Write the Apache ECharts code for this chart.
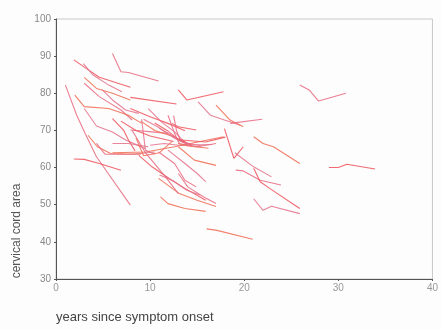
<!DOCTYPE html>
<html>
<head>
<meta charset="utf-8">
<script src="https://cdn.jsdelivr.net/npm/echarts@6/dist/echarts.min.js"></script>
<style>
  html, body { margin: 0; padding: 0; background: #fdfdfd; }
  #chart { width: 441px; height: 329px; }
</style>
</head>
<body>
<div id="chart"></div>
<script>
// axis setup
const xTicks = [0, 10, 20, 30, 40];
const yTicks = [30, 40, 50, 60, 70, 80, 90, 100];
const xTitle = 'years since symptom onset';
const yTitle = 'cervical cord area';

// one list of [years, area] points per patient
const trajectories = [
  [[6, 90.7], [6.9, 85.8], [7.7, 85.6], [10.9, 83.3]],
  [[1.9, 89], [3.2, 86.7], [4.6, 84.3], [7.9, 81.6]],
  [[2.9, 88], [3.9, 85], [5.6, 82.2], [7, 80.4]],
  [[3, 84.3], [4.3, 81.3], [6, 80], [7.9, 78.2]],
  [[3, 82.7], [4.6, 79.1], [6.9, 75.5], [8.1, 72.8]],
  [[7.9, 78.9], [12.8, 77.1]],
  [[4.9, 81], [6, 78.2], [7.4, 75.5], [8.8, 74.6]],
  [[2, 79.5], [3, 76.4], [5.6, 75.9], [7.7, 74.1], [9.1, 71.9]],
  [[1, 82.2], [2.2, 74.1], [3.1, 69.2], [4.3, 62.9], [7.9, 49.9]],
  [[1.9, 62.3], [3, 62.2], [4.6, 61.1], [6.9, 59.3]],
  [[3, 75.9], [4.3, 71.2], [6, 69.6], [7.4, 67.4], [9.5, 65.1]],
  [[3.4, 68.7], [4.4, 65.6], [5.8, 63.8], [7.2, 63.7], [9, 63.6]],
  [[4.3, 66.5], [5.2, 63.6], [8.1, 63.6], [10.5, 64.2]],
  [[6, 73.2], [7.2, 70], [7.7, 67.4], [8.4, 64.5]],
  [[6, 66.5], [7.7, 66.5], [9.8, 65.6]],
  [[6, 64], [9.5, 64.2], [12.6, 65.6], [17.8, 68.3]],
  [[7.9, 70.1], [10.2, 69.6], [11.9, 69.2]],
  [[7.9, 75.9], [10, 73.7], [11.9, 71.9], [13.7, 69.9]],
  [[9.8, 75.9], [11.2, 72.3], [12.6, 69.6], [13.8, 66.5]],
  [[9, 72.5], [10.5, 70], [12.3, 68.5], [13.8, 66.8]],
  [[11.9, 74.1], [12.6, 69.2], [13.1, 66.5]],
  [[12.3, 71.9], [13, 71], [14.9, 70.1]],
  [[9.1, 73], [9.5, 64.7], [10.5, 63.6]],
  [[8.5, 68], [9.3, 63.2], [11, 64], [12.3, 67]],
  [[13, 66.5], [15, 65.6], [17, 66.5]],
  [[13, 67.5], [15.9, 66.9], [18, 68.2]],
  [[11.9, 64.7], [13.7, 61.1], [15, 58.4], [15.9, 56.2]],
  [[13, 65.6], [14.7, 62], [17, 60.6]],
  [[10.9, 64.2], [12.6, 61.1], [13.7, 56.6], [14.9, 54.8]],
  [[8.8, 63.3], [10.2, 60.2], [12.3, 56.6], [13.7, 54.4], [15.9, 51.2]],
  [[11, 58], [12.4, 56.5], [13.9, 53.9], [15.3, 52.6]],
  [[11.1, 52.1], [11.9, 50.3], [13.7, 49], [15.9, 48.2]],
  [[13, 58.4], [14, 54.8], [15.7, 52.1], [17, 50.3]],
  [[13, 80.9], [13.9, 78.2], [17.8, 80.4]],
  [[15.1, 77.7], [16.4, 74.1], [17.9, 72.8], [19.6, 71.4]],
  [[17, 76.8], [18.5, 72.8], [19.9, 71]],
  [[18.5, 71.9], [21.9, 73]],
  [[17.9, 70.5], [18.9, 62.5], [19.9, 65.6]],
  [[19, 64], [21, 60.2], [22.9, 57.5]],
  [[21, 68.3], [22, 66.5], [23.1, 65.6], [25.9, 61.1]],
  [[19.1, 59.3], [19.9, 59.1], [21.7, 56.6], [23.9, 55.3]],
  [[21, 59.8], [21.7, 56.2], [22.7, 54.4], [25.9, 49]],
  [[21, 51.6], [22, 48.5], [22.9, 49.6], [25.9, 47.6]],
  [[16, 43.5], [17.1, 43.1], [20.9, 40.7]],
  [[25.9, 82.2], [26.9, 80.9], [27.9, 77.9], [30.8, 80]],
  [[29, 60], [30, 60], [30.9, 60.9], [33.9, 59.6]],
  [[10, 66], [11.5, 66.5], [13, 66], [16.6, 66.2]],
  [[13, 66.5], [14, 65.8], [16.2, 65.2]],
  [[12.5, 74], [12.8, 70], [13.2, 67.5], [14, 66.5]],
  [[6.9, 72.5], [8.5, 70], [10, 68.5], [12.5, 67]],
  [[9.3, 73], [10.8, 71], [12.6, 67.9], [14.1, 66]],
  [[10.9, 57.1], [13.1, 53], [15, 51.2], [17, 49.5]],
  [[8.1, 70], [9.5, 64], [11.7, 57.3], [13, 53]],
  [[10.5, 72], [11.8, 70], [13.2, 67.2], [14.5, 66]],
  [[11, 70.5], [12.2, 68.8], [13.5, 66.8], [15.5, 65.8]]
];

const lineColors = ['#e8687f', '#ee5058', '#e4708a', '#f06a50'];

const chart = echarts.init(document.getElementById('chart'));

const series = trajectories.map((pts, i) => ({
  type: 'line',
  data: pts,
  symbol: 'none',
  silent: true,
  animation: false,
  lineStyle: { color: lineColors[i % lineColors.length], width: 1.1, opacity: 0.85 }
}));

chart.setOption({
  backgroundColor: '#fdfdfd',
  textStyle: { fontFamily: 'Liberation Sans, Arial, sans-serif' },
  grid: {
    left: 56, right: 3, top: 19, bottom: 50,
    show: true, borderColor: '#c8c8c8', borderWidth: 1
  },
  xAxis: {
    type: 'value',
    min: xTicks[0], max: xTicks[xTicks.length - 1], interval: 10,
    splitLine: { show: false },
    axisLine: { show: true, lineStyle: { color: '#555', width: 1 } },
    axisTick: { show: true, length: 2, lineStyle: { color: '#555' } },
    axisLabel: { color: '#999', fontSize: 10, margin: 4 }
  },
  yAxis: {
    type: 'value',
    min: yTicks[0], max: yTicks[yTicks.length - 1], interval: 10,
    splitLine: { show: false },
    axisLine: { show: true, lineStyle: { color: '#555', width: 1 } },
    axisTick: { show: true, length: 2, lineStyle: { color: '#555' } },
    axisLabel: { color: '#888', fontSize: 10, margin: 5 }
  },
  graphic: [
    {
      type: 'text', left: 56, top: 311,
      style: { text: xTitle, fontSize: 13, fill: '#444', fontFamily: 'Liberation Sans, Arial, sans-serif' }
    },
    {
      type: 'text', x: 17, y: 231, rotation: Math.PI / 2,
      style: { text: yTitle, fontSize: 12, fill: '#555', textAlign: 'center', textVerticalAlign: 'middle', fontFamily: 'Liberation Sans, Arial, sans-serif' }
    }
  ],
  series: series
});
</script>
</body>
</html>
